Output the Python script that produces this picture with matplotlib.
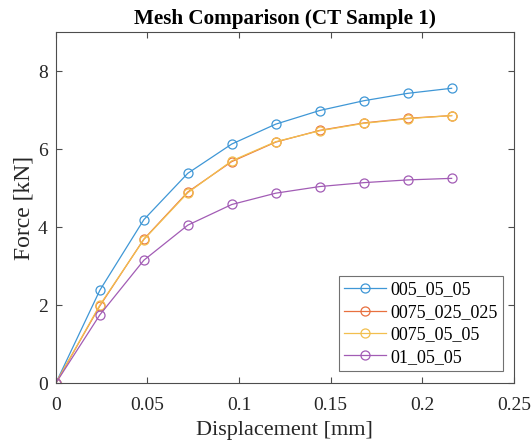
import matplotlib
matplotlib.use("Agg")
import matplotlib.pyplot as plt

# Displacement steps [mm]
displacement = [0, 0.024, 0.048, 0.072, 0.096, 0.120, 0.144, 0.168, 0.192, 0.216]

# Force [kN] for each mesh configuration
force_005_05_05 = [0, 2.38, 4.19, 5.38, 6.13, 6.64, 6.99, 7.24, 7.43, 7.56]
force_0075_025_025 = [0, 1.98, 3.69, 4.90, 5.68, 6.18, 6.48, 6.67, 6.79, 6.86]
force_0075_05_05 = [0, 2.00, 3.68, 4.88, 5.70, 6.19, 6.47, 6.66, 6.78, 6.86]
force_01_05_05 = [0, 1.75, 3.15, 4.05, 4.58, 4.87, 5.04, 5.14, 5.21, 5.25]

series_labels = ["005_05_05", "0075_025_025", "0075_05_05", "01_05_05"]
series_colors = ["#3f97d6", "#e8703f", "#f2bf4e", "#a25cb5"]

x_ticks = [0, 0.05, 0.1, 0.15, 0.2, 0.25]
x_tick_labels = ["0", "0.05", "0.1", "0.15", "0.2", "0.25"]
y_ticks = [0, 2, 4, 6, 8]

plt.rcParams["font.family"] = ["Liberation Serif", "DejaVu Serif"]
plt.rcParams["mathtext.fontset"] = "stix"

fig = plt.figure(figsize=(5.32, 4.46), dpi=100)
ax = fig.add_axes([0.105, 0.141, 0.861, 0.787])

all_series = [force_005_05_05, force_0075_025_025, force_0075_05_05, force_01_05_05]
for values, label, color in zip(all_series, series_labels, series_colors):
    ax.plot(displacement, values, color=color, linewidth=0.9, marker="o",
            markersize=6.5, markerfacecolor="none", markeredgewidth=0.9,
            label=label)

ax.set_xlim(0, 0.25)
ax.set_ylim(0, 9)
ax.set_xticks(x_ticks)
ax.set_xticklabels(x_tick_labels)
ax.set_yticks(y_ticks)

for spine in ax.spines.values():
    spine.set_color("#4d4d4d")
    spine.set_linewidth(0.8)

ax.tick_params(axis="both", direction="in", length=4, width=0.8,
               colors="#4d4d4d", labelcolor="#262626", labelsize=14,
               top=True, right=True)
ax.tick_params(axis="x", pad=10)
ax.tick_params(axis="y", pad=6)

ax.set_xlabel("Displacement [mm]", fontsize=16, color="#262626", labelpad=5)
ax.set_ylabel("Force [kN]", fontsize=17, color="#262626", labelpad=2)
ax.set_title("Mesh Comparison (CT Sample 1)", fontsize=15.2, fontweight="bold",
             pad=6)

leg = ax.legend(loc="lower right", bbox_to_anchor=(0.976, 0.034), fontsize=13,
                frameon=True, fancybox=False, edgecolor="#4d4d4d",
                handlelength=2.3, handletextpad=0.25, borderpad=0.3,
                labelspacing=0.3, borderaxespad=0.0)
leg.get_frame().set_linewidth(0.8)

fig.savefig("out.png", dpi=100)
